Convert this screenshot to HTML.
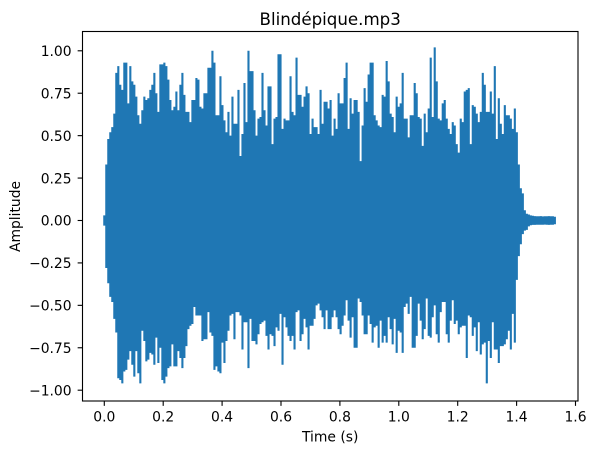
<!DOCTYPE html>
<html lang="en">
<head>
<meta charset="utf-8">
<title>Blindépique.mp3</title>
<style>
html,body{margin:0;padding:0;background:#fff;width:596px;height:454px;overflow:hidden}
svg{display:block}
text{font-family:"DejaVu Sans","Liberation Sans",sans-serif;fill:#000}
</style>
</head>
<body>
<svg id="chart" xmlns="http://www.w3.org/2000/svg" width="596" height="454" viewBox="0 0 596 454">
  <rect x="0" y="0" width="596" height="454" fill="#fff"/>
  <path id="wave" fill="none" stroke="#1f77b4" stroke-width="2.1" stroke-linecap="butt"/>
  <g id="ticks"></g>
  <rect x="82.5" y="31.5" width="495.5" height="369.5" fill="none" stroke="#000" stroke-width="1.11"/>
  <text x="330.2" y="25" font-size="16.67" text-anchor="middle">Blindépique.mp3</text>
  <text x="330.2" y="441.5" font-size="13.89" text-anchor="middle">Time (s)</text>
  <text transform="translate(20 216.5) rotate(-90)" font-size="13.89" text-anchor="middle">Amplitude</text>
</svg>
<script>
const timeStep = 0.0068;
const upperEnvelope = [
.03,.33,.48,.52,.55,.63,.87,.91,.80,.77,.93,.93,.69,.91,.82,.80,.73,.62,.57,.65,
.73,.71,.72,.77,.80,.87,.75,.64,.92,.92,.93,.91,.83,.71,.65,.67,.76,.65,.80,.87,
.74,.64,.64,.58,.71,.71,.84,.83,.67,.66,.75,.75,.90,.90,1.00,.93,.62,.62,.85,.68,
.59,.52,.64,.50,.73,.57,.57,.77,.38,.51,.81,.58,1.00,.88,.88,.65,.50,.60,.61,.87,
.65,.56,.79,.79,.45,.60,.61,.98,.98,.54,.60,.59,.59,.85,.64,.62,.96,.74,.74,.67,
.73,.79,.75,.51,.60,.55,.55,.51,.77,.57,.70,.70,.66,.71,.50,.60,.54,.75,.69,.69,
.84,.93,.54,.72,.63,.71,.71,.64,.35,.56,.78,.70,.86,.93,.93,.62,.59,.56,.55,.74,
.73,.94,.82,.63,.61,.52,.73,.67,.69,.87,.60,.60,.49,.62,.62,.81,.75,.61,.60,.44,
.63,.52,.66,.96,.61,1.02,.82,.60,.59,.69,.71,.60,.54,.51,.58,.56,.45,.40,.60,.58,
.76,.77,.78,.45,.68,.67,.63,.58,.64,.87,.80,.64,.64,.76,.63,.91,.48,.72,.57,.51,
.68,.62,.62,.60,.54,.66,.52,.33,.19,.16,.06,.04,.035,.03,.028,.026,.025,.025,.026,.024,
.025,.025,.026,.025,.025,.022
];
const lowerEnvelope = [
-.03,-.28,-.37,-.45,-.48,-.58,-.66,-.93,-.94,-.96,-.89,-.88,-.82,-.77,-.85,-.92,-.77,-.90,-.96,-.65,
-.71,-.83,-.82,-.78,-.79,-.85,-.69,-.84,-.75,-.94,-.96,-.92,-.87,-.86,-.73,-.86,-.86,-.77,-.81,-.87,
-.81,-.74,-.64,-.62,-.61,-.51,-.56,-.56,-.56,-.71,-.70,-.70,-.54,-.66,-.68,-.88,-.86,-.89,-.90,-.72,
-.84,-.71,-.65,-.56,-.55,-.70,-.54,-.54,-.56,-.76,-.60,-.60,-.87,-.58,-.71,-.71,-.73,-.67,-.61,-.60,
-.59,-.68,-.76,-.67,-.68,-.74,-.63,-.65,-.55,-.85,-.57,-.63,-.68,-.71,-.68,-.76,-.54,-.53,-.71,-.67,
-.58,-.63,-.76,-.62,-.62,-.58,-.50,-.49,-.53,-.57,-.64,-.53,-.64,-.64,-.57,-.53,-.57,-.64,-.67,-.62,
-.56,-.47,-.59,-.69,-.57,-.75,-.75,-.46,-.48,-.56,-.67,-.67,-.56,-.61,-.72,-.63,-.62,-.75,-.59,-.72,
-.68,-.72,-.57,-.64,-.73,-.58,-.78,-.65,-.66,-.78,-.51,-.49,-.55,-.45,-.75,-.75,-.68,-.49,-.59,-.70,
-.64,-.46,-.68,-.69,-.57,-.50,-.67,-.72,-.54,-.48,-.48,-.67,-.72,-.59,-.47,-.61,-.59,-.67,-.63,-.62,
-.62,-.81,-.56,-.57,-.68,-.63,-.77,-.60,-.79,-.73,-.72,-.96,-.71,-.81,-.60,-.76,-.76,-.84,-.74,-.74,
-.73,-.70,-.65,-.76,-.55,-.72,-.35,-.21,-.14,-.08,-.06,-.055,-.035,-.028,-.026,-.026,-.025,-.025,-.025,-.025,
-.024,-.025,-.026,-.025,-.025,-.022
];
const xTickValues = [0, 0.2, 0.4, 0.6, 0.8, 1.0, 1.2, 1.4, 1.6];
const xTickLabels = ["0.0", "0.2", "0.4", "0.6", "0.8", "1.0", "1.2", "1.4", "1.6"];
const yTickValues = [-1, -0.75, -0.5, -0.25, 0, 0.25, 0.5, 0.75, 1];
const yTickLabels = ["\u22121.00", "\u22120.75", "\u22120.50", "\u22120.25", "0.00", "0.25", "0.50", "0.75", "1.00"];

const plotBox = { left: 82.5, right: 578, top: 31.5, bottom: 401 };
const xDomain = [-0.074, 1.6085];
const yDomain = [-1.0637, 1.1137];
function xScale(t) {
  return plotBox.left + (t - xDomain[0]) / (xDomain[1] - xDomain[0]) * (plotBox.right - plotBox.left);
}
function yScale(a) {
  return plotBox.bottom - (a - yDomain[0]) / (yDomain[1] - yDomain[0]) * (plotBox.bottom - plotBox.top);
}

const SVG_NS = "http://www.w3.org/2000/svg";
let d = "";
const sampleCount = Math.min(upperEnvelope.length, lowerEnvelope.length);
for (let i = 0; i < sampleCount; i++) {
  const x = xScale(i * timeStep).toFixed(2);
  d += "M" + x + " " + yScale(upperEnvelope[i]).toFixed(2) + "L" + x + " " + yScale(lowerEnvelope[i]).toFixed(2);
}
document.getElementById("wave").setAttribute("d", d);

const tickGroup = document.getElementById("ticks");
xTickValues.forEach(function (v, i) {
  const x = xScale(v);
  const tick = document.createElementNS(SVG_NS, "line");
  
  
  tick.setAttribute("x1", x);
  tick.setAttribute("x2", x);
  tick.setAttribute("y1", plotBox.bottom);
  tick.setAttribute("y2", plotBox.bottom + 4.86);
  tick.setAttribute("stroke", "#000");
  tick.setAttribute("stroke-width", "1.11");
  tickGroup.appendChild(tick);
  const label = document.createElementNS(SVG_NS, "text");
  
  
  label.setAttribute("x", x);
  label.setAttribute("y", 421.3);
  label.setAttribute("font-size", "13.89");
  label.setAttribute("text-anchor", "middle");
  label.textContent = xTickLabels[i];
  tickGroup.appendChild(label);
});
yTickValues.forEach(function (v, i) {
  const y = yScale(v);
  const tick = document.createElementNS(SVG_NS, "line");
  
  
  tick.setAttribute("x1", plotBox.left);
  tick.setAttribute("x2", plotBox.left - 4.86);
  tick.setAttribute("y1", y);
  tick.setAttribute("y2", y);
  tick.setAttribute("stroke", "#000");
  tick.setAttribute("stroke-width", "1.11");
  tickGroup.appendChild(tick);
  const label = document.createElementNS(SVG_NS, "text");
  
  
  label.setAttribute("x", plotBox.left - 10.9);
  label.setAttribute("y", y + 5.2);
  label.setAttribute("font-size", "13.89");
  label.setAttribute("text-anchor", "end");
  label.textContent = yTickLabels[i];
  tickGroup.appendChild(label);
});
</script>
</body>
</html>
